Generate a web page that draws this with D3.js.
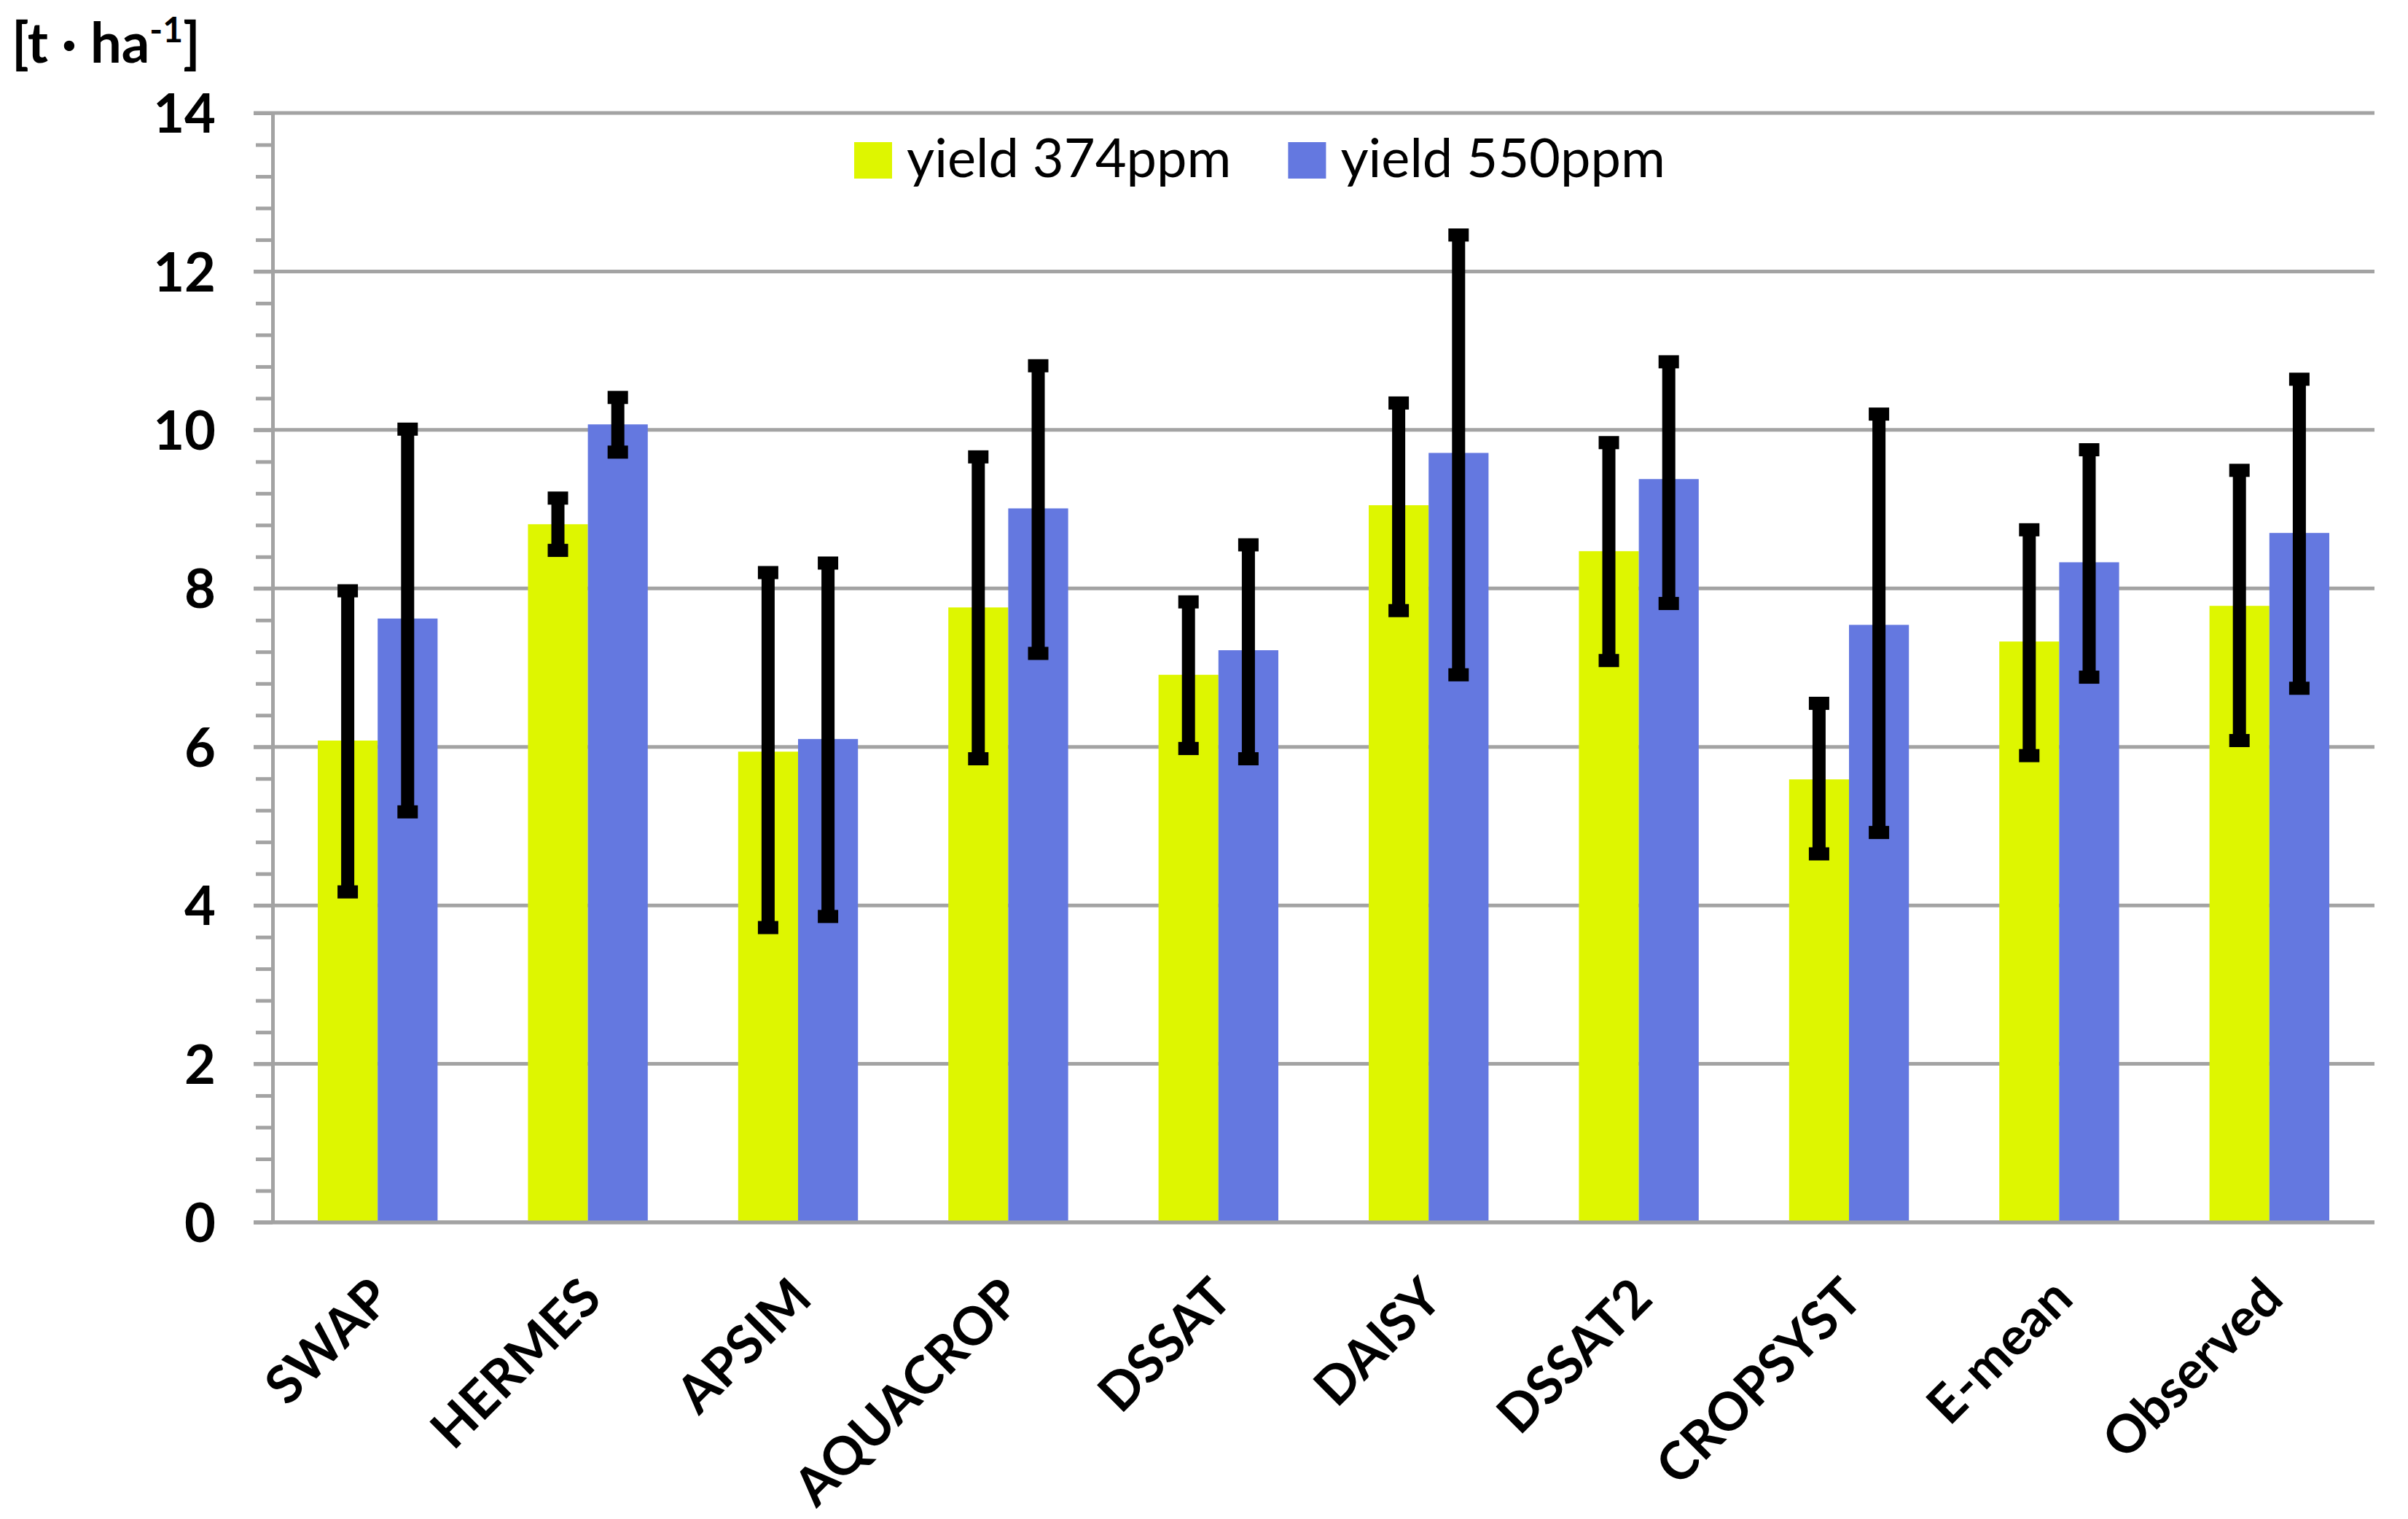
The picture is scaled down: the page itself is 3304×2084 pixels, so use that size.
<!DOCTYPE html>
<html>
<head>
<meta charset="utf-8">
<script src="https://cdn.jsdelivr.net/npm/d3@7"></script>
<style>
  body { margin: 0; background: #fff; }
  text { font-family: Lato, "Open Sans", sans-serif; fill: #000; }
</style>
</head>
<body>
<div id="chart"></div>
<script>
// Chart values
const categories = ["SWAP", "HERMES", "APSIM", "AQUACROP", "DSSAT", "DAISY", "DSSAT2", "CROPSYST", "E-mean", "Observed"];
const seriesNames = ["yield 374ppm", "yield 550ppm"];
const yield374 = [6.08, 8.81, 5.94, 7.76, 6.91, 9.05, 8.47, 5.59, 7.33, 7.78];
const low374   = [4.17, 8.48, 3.72, 5.85, 5.98, 7.72, 7.09, 4.65, 5.89, 6.08];
const high374  = [7.97, 9.14, 8.20, 9.66, 7.83, 10.34, 9.84, 6.55, 8.74, 9.49];
const yield550 = [7.62, 10.07, 6.10, 9.01, 7.22, 9.71, 9.38, 7.54, 8.33, 8.70];
const low550   = [5.18, 9.72, 3.86, 7.18, 5.85, 6.91, 7.81, 4.92, 6.88, 6.74];
const high550  = [10.01, 10.41, 8.32, 10.81, 8.55, 12.46, 10.86, 10.20, 9.75, 10.64];
const yTicks = [0, 2, 4, 6, 8, 10, 12, 14];
const yMinorTicks = d3.range(0, 14.01, 0.4).filter(v => Math.abs(v / 2 - Math.round(v / 2)) > 0.01);

const colors = ["#def600", "#6478e0"];
const gridColor = "#a3a3a3";

const margin = { top: 155, right: 46, bottom: 407, left: 374 };
const width = 3304 - margin.left - margin.right;
const height = 2084 - margin.top - margin.bottom;

const root = d3.select("#chart")
  .append("svg")
    .attr("width", 3304)
    .attr("height", 2084);

root.append("rect")
  .attr("width", 3304)
  .attr("height", 2084)
  .attr("fill", "#fff");

const svg = root.append("g")
  .attr("transform", `translate(${margin.left},${margin.top})`);

// rows for the grouped bars
const data = categories.map((c, i) => ({
  category: c,
  values: [
    { s: 0, v: yield374[i], lo: low374[i], hi: high374[i] },
    { s: 1, v: yield550[i], lo: low550[i], hi: high550[i] }
  ]
}));

// Scales
const x0 = d3.scaleBand()
  .domain(categories)
  .range([0, width])
  .paddingInner(0.43)
  .paddingOuter(0.215);

const x1 = d3.scaleBand()
  .domain([0, 1])
  .range([0, x0.bandwidth()]);

const y = d3.scaleLinear()
  .domain([0, 14])
  .range([height, 0]);

// Gridlines
svg.append("g")
  .selectAll("line")
  .data(yTicks)
  .enter()
  .append("line")
    .attr("x1", -26)
    .attr("x2", width)
    .attr("y1", d => y(d))
    .attr("y2", d => y(d))
    .attr("stroke", gridColor)
    .attr("stroke-width", 5);

// Minor ticks on the y axis
svg.append("g")
  .call(d3.axisLeft(y).tickValues(yMinorTicks).tickSize(23).tickSizeOuter(0).tickFormat(""))
  .call(g => g.select(".domain").remove())
  .selectAll("line")
    .attr("stroke", gridColor)
    .attr("stroke-width", 5);

// Major y axis
const yAxis = svg.append("g")
  .call(d3.axisLeft(y).tickValues(yTicks).tickSize(26).tickSizeOuter(0).tickPadding(52));

yAxis.select(".domain")
  .attr("stroke", gridColor)
  .attr("stroke-width", 5);
yAxis.selectAll(".tick line")
  .attr("stroke", gridColor)
  .attr("stroke-width", 5);
yAxis.selectAll(".tick text")
  .attr("dy", "0.36em")
  .style("font-size", "74px")
  .style("font-weight", "bold");

// Bars
const groups = svg.selectAll(".grp")
  .data(data)
  .enter()
  .append("g")
    .attr("class", "grp")
    .attr("transform", d => `translate(${x0(d.category)},0)`);

groups.selectAll("rect")
  .data(d => d.values)
  .enter()
  .append("rect")
    .attr("x", d => x1(d.s))
    .attr("y", d => y(d.v))
    .attr("width", x1.bandwidth())
    .attr("height", d => height - y(d.v))
    .attr("fill", d => colors[d.s]);

// X axis line
svg.append("line")
  .attr("x1", -26)
  .attr("x2", width)
  .attr("y1", height)
  .attr("y2", height)
  .attr("stroke", gridColor)
  .attr("stroke-width", 5);

// Error bars
const err = groups.selectAll(".err")
  .data(d => d.values)
  .enter()
  .append("g")
    .attr("class", "err")
    .attr("transform", d => `translate(${x1(d.s) + x1.bandwidth() / 2},0)`);

err.append("line")
  .attr("y1", d => y(d.hi))
  .attr("y2", d => y(d.lo))
  .attr("stroke", "#000")
  .attr("stroke-width", 18);

err.selectAll(".cap")
  .data(d => [d.lo, d.hi])
  .enter()
  .append("line")
    .attr("class", "cap")
    .attr("x1", -14)
    .attr("x2", 14)
    .attr("y1", d => y(d))
    .attr("y2", d => y(d))
    .attr("stroke", "#000")
    .attr("stroke-width", 18);

// Category labels
const xAxis = svg.append("g")
  .attr("transform", `translate(0,${height})`)
  .call(d3.axisBottom(x0).tickSize(0).tickSizeOuter(0));

xAxis.select(".domain").remove();
xAxis.selectAll("text")
  .attr("x", 0)
  .attr("y", 0)
  .attr("dy", 0)
  .attr("transform", "translate(22,108) rotate(-45)")
  .style("text-anchor", "end")
  .style("font-size", "72px")
  .style("font-weight", "bold");

// Unit label
const unit = root.append("text")
  .attr("x", 16)
  .attr("y", 86)
  .style("font-size", "76px")
  .style("font-weight", "bold");
unit.append("tspan").text("[t · ha");
unit.append("tspan").attr("dy", -28).style("font-size", "48px").text("-1");
unit.append("tspan").attr("dy", 28).text("]");

// Legend
const legend = root.append("g");
let lx = 1172;
seriesNames.forEach((name, i) => {
  legend.append("rect")
    .attr("x", lx)
    .attr("y", 195)
    .attr("width", 52)
    .attr("height", 50)
    .attr("fill", colors[i]);
  const t = legend.append("text")
    .attr("x", lx + 72)
    .attr("y", 243)
    .style("font-size", "74px")
    .text(name);
  lx = lx + 72 + t.node().getComputedTextLength() + 78;
});
</script>
</body>
</html>
